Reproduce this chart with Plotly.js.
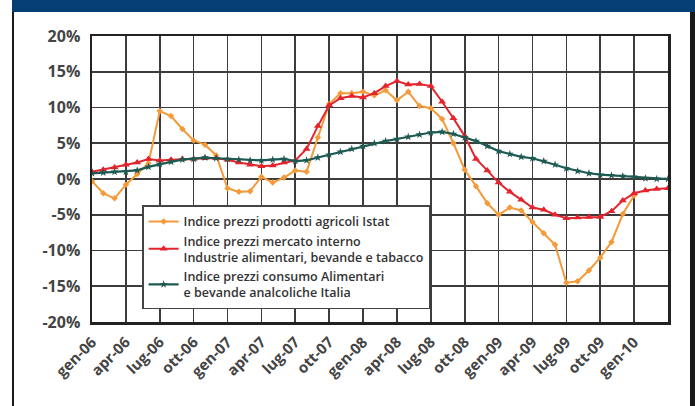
<!DOCTYPE html>
<html>
<head>
<meta charset="utf-8">
<script src="https://cdn.plot.ly/plotly-3.0.1.min.js"></script>
<style>
  html, body { margin: 0; padding: 0; background: #ffffff; }
  #wrap { position: relative; width: 695px; height: 406px; overflow: hidden; background: #fff; }
  #chart { position: absolute; left: 0; top: 0; width: 695px; height: 406px; }
  .frame { position: absolute; z-index: 5; }
</style>
</head>
<body>
<div id="wrap">
  <div id="chart"></div>
  <div class="frame" style="left:12px;top:0;width:683px;height:12px;background:#043e74;"></div>
  <div class="frame" style="left:12px;top:12px;width:2px;height:394px;background:#1a1a1a;"></div>
  <div class="frame" style="left:690px;top:12px;width:5px;height:394px;background:#1a1a1a;"></div>
</div>
<script>
// Months (gen-06 .. apr-10)
const months = [
  "gen-06","feb-06","mar-06","apr-06","mag-06","giu-06","lug-06","ago-06","set-06","ott-06","nov-06","dic-06",
  "gen-07","feb-07","mar-07","apr-07","mag-07","giu-07","lug-07","ago-07","set-07","ott-07","nov-07","dic-07",
  "gen-08","feb-08","mar-08","apr-08","mag-08","giu-08","lug-08","ago-08","set-08","ott-08","nov-08","dic-08",
  "gen-09","feb-09","mar-09","apr-09","mag-09","giu-09","lug-09","ago-09","set-09","ott-09","nov-09","dic-09",
  "gen-10","feb-10","mar-10","apr-10"
];

// Tick labels on the x axis (quarterly)
const xTickLabels = ["gen-06","apr-06","lug-06","ott-06","gen-07","apr-07","lug-07","ott-07",
  "gen-08","apr-08","lug-08","ott-08","gen-09","apr-09","lug-09","ott-09","gen-10"];

// Y ticks
const yTickVals = [20, 15, 10, 5, 0, -5, -10, -15, -20];
const yTickText = ["20%", "15%", "10%", "5%", "0%", "-5%", "-10%", "-15%", "-20%"];

// Series names
const nameAgricoli = "Indice prezzi prodotti agricoli Istat";
const nameMercato = "Indice prezzi mercato interno<br>Industrie alimentari, bevande e tabacco";
const nameConsumo = "Indice prezzi consumo Alimentari<br>e bevande analcoliche Italia";

// Indice prezzi prodotti agricoli Istat (%), ends gen-10
const agricoli = [
  -0.3, -2.0, -2.7, -0.8, 0.7, 2.2, 9.5, 8.8, 7.0, 5.4, 4.8, 3.3,
  -1.3, -1.8, -1.7, 0.3, -0.5, 0.2, 1.2, 1.0, 5.8, 10.5, 12.0, 12.0,
  12.2, 11.7, 12.4, 11.0, 12.2, 10.2, 9.9, 8.4, 5.0, 1.3, -1.0, -3.4,
  -5.0, -4.0, -4.4, -6.0, -7.6, -9.2, -14.5, -14.3, -12.8, -11.0, -8.8, -4.9,
  -2.3
];

// Indice prezzi mercato interno industrie alimentari (%)
const mercato = [
  1.0, 1.3, 1.6, 2.0, 2.3, 2.8, 2.6, 2.7, 2.8, 2.8, 2.9, 2.9,
  2.7, 2.3, 2.0, 1.8, 1.9, 2.3, 2.6, 4.2, 7.4, 10.3, 11.3, 11.6,
  11.4, 12.0, 13.0, 13.7, 13.2, 13.3, 13.0, 10.8, 8.5, 6.0, 2.8, 1.2,
  -0.5, -1.8, -2.9, -4.0, -4.3, -5.0, -5.5, -5.4, -5.3, -5.3, -4.5, -3.0,
  -2.0, -1.6, -1.4, -1.3
];

// Indice prezzi consumo alimentari e bevande analcoliche (%)
const consumo = [
  0.8, 0.9, 1.0, 1.0, 1.2, 1.7, 2.1, 2.4, 2.7, 2.8, 3.0, 2.9,
  2.8, 2.7, 2.6, 2.6, 2.7, 2.8, 2.5, 2.6, 3.0, 3.4, 3.8, 4.2,
  4.6, 5.0, 5.3, 5.6, 5.9, 6.2, 6.5, 6.6, 6.3, 5.8, 5.3, 4.6,
  3.9, 3.5, 3.1, 2.9, 2.5, 2.0, 1.5, 1.1, 0.8, 0.6, 0.5, 0.4,
  0.3, 0.1, 0.0, 0.0
];

const traces = [
  {
    x: months.slice(0, agricoli.length), y: agricoli, name: nameAgricoli,
    type: "scatter", mode: "lines+markers",
    line: { color: "#f39a3a", width: 2 },
    marker: { symbol: "diamond", size: 5, color: "#f39a3a" }
  },
  {
    x: months.slice(0, mercato.length), y: mercato, name: nameMercato,
    type: "scatter", mode: "lines+markers",
    line: { color: "#e3242d", width: 2 },
    marker: { symbol: "triangle-up", size: 7, color: "#e3242d" }
  },
  {
    x: months.slice(0, consumo.length), y: consumo, name: nameConsumo,
    type: "scatter", mode: "lines+markers",
    line: { color: "#1e5a52", width: 2.2 },
    marker: { symbol: "star", size: 6, color: "#1e5a52" }
  }
];

const layout = {
  width: 695, height: 406,
  margin: { l: 92, r: 27, t: 36, b: 84 },
  paper_bgcolor: "rgba(0,0,0,0)",
  plot_bgcolor: "#ffffff",
  showlegend: true,
  legend: {
    x: 0.087, y: 0.408, xanchor: "left", yanchor: "top",
    bgcolor: "#ffffff", bordercolor: "#444444", borderwidth: 1.5,
    font: { family: "Open Sans, sans-serif", size: 12.5, color: "#333333", weight: 600 },
    tracegroupgap: 2, itemwidth: 30
  },
  xaxis: {
    type: "category",
    range: [0, 51],
    tickmode: "array",
    tickvals: xTickLabels,
    ticktext: xTickLabels,
    tickangle: -45,
    showgrid: true, gridcolor: "#3c3c3c", gridwidth: 1.6,
    showline: true, mirror: true, linecolor: "#222222", linewidth: 2.5,
    ticks: "",
    ticklabelstandoff: 3,
    tickfont: { family: "Open Sans, sans-serif", size: 15, color: "#444444", weight: 700 }
  },
  yaxis: {
    range: [-20, 20],
    tickmode: "array",
    tickvals: yTickVals,
    ticktext: yTickText,
    showgrid: true, gridcolor: "#3c3c3c", gridwidth: 1.6,
    zeroline: false,
    showline: true, mirror: true, linecolor: "#222222", linewidth: 2.5,
    ticks: "",
    ticklabelstandoff: 6,
    tickfont: { family: "Open Sans, sans-serif", size: 16, color: "#444444", weight: 700 }
  }
};

Plotly.newPlot("chart", traces, layout, { displayModeBar: false, staticPlot: true });
</script>
</body>
</html>
